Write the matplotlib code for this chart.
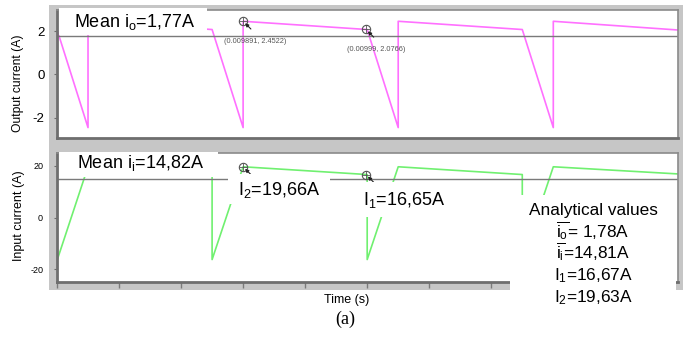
import numpy as np
import matplotlib
matplotlib.use("Agg")
import matplotlib.pyplot as plt
from matplotlib.patches import Rectangle

plt.rcParams['font.family'] = ['Liberation Sans', 'DejaVu Sans']
plt.rcParams['mathtext.fontset'] = 'custom'
plt.rcParams['mathtext.rm'] = 'Liberation Sans'
plt.rcParams['mathtext.it'] = 'Liberation Sans'

# time base (s) and breakpoints in microseconds from t0
t0 = 0.009741
t_span_us = 500.5

t_out_us = [0, 25, 25, 125, 150, 150, 250, 275, 275, 375, 400, 400, 500]
i_out = [2.07, -2.45, 2.45, 2.07, -2.45, 2.45, 2.07, -2.45, 2.45, 2.07, -2.45, 2.45, 2.05]

t_in_us = [0, 0, 25, 125, 125, 150, 250, 250, 275, 375, 375, 400, 500]
i_in = [15.3, -16.7, 19.66, 16.65, -16.3, 19.66, 16.65, -16.3, 19.66, 16.65, -16.3, 19.66, 16.9]

mean_out = 1.77
mean_in = 14.82

# cursor readouts
cur_t = [0.009891, 0.00999]
cur_out = [2.4522, 2.0766]
cur_out_txt = ["(0.009891, 2.4522)", "(0.00999, 2.0766)"]
cur_in = [19.66, 16.65]

out_ticks = [-2, 0, 2]
in_ticks = [-20, 0, 20]
x_tick_us = [0, 50, 100, 150, 200, 250, 300, 350, 400, 450]

analytical = ["Analytical values",
              r"$\overline{\mathrm{i_o}}$= 1,78A",
              r"$\overline{\mathrm{i_i}}$=14,81A",
              r"I$_1$=16,67A",
              r"I$_2$=19,63A"]

W, H = 686, 343
fig = plt.figure(figsize=(W / 100, H / 100), dpi=100)


def fx(px):
    return px / W


def fy(py):
    return 1 - py / H


def box(x0, y0, x1, y1, color='white', z=3):
    fig.patches.append(Rectangle((fx(x0), fy(y1)), fx(x1) - fx(x0), fy(y0) - fy(y1),
                                 transform=fig.transFigure, facecolor=color,
                                 edgecolor='none', zorder=z))


# gray frame behind the two plots
box(49, 5, 683, 290, color='#c6c6c6', z=-1)

ax1 = fig.add_axes([fx(57), fy(138), fx(678) - fx(57), fy(10) - fy(138)])
ax2 = fig.add_axes([fx(57), fy(282), fx(678) - fx(57), fy(153) - fy(282)])

t_out = t0 + np.array(t_out_us) * 1e-6
t_in = t0 + np.array(t_in_us) * 1e-6

ax1.plot(t_out, i_out, color='#ff70ff', lw=1.2)
ax1.axhline(mean_out, color='#7a7a7a', lw=1)
ax1.set_ylim(-2.93, 2.97)

ax2.plot(t_in, i_in, color='#70f070', lw=1.2)
ax2.axhline(mean_in, color='#7a7a7a', lw=1)
ax2.set_ylim(-25, 25)

for ax in (ax1, ax2):
    ax.set_xlim(t0, t0 + t_span_us * 1e-6)
    ax.set_facecolor('white')
    for s in ax.spines.values():
        s.set_color('#8a8a8a')
        s.set_linewidth(1.2)
    ax.spines['left'].set_color('#6e6e6e')
    ax.spines['left'].set_linewidth(2)
    ax.spines['bottom'].set_color('#6e6e6e')
    ax.spines['bottom'].set_linewidth(2)

ax1.set_xticks([])
ax1.set_yticks(out_ticks)
ax1.set_yticklabels([str(v) for v in out_ticks])
ax1.tick_params(axis='y', length=2, pad=7, labelsize=9.5, color='#6e6e6e')

ax2.set_xticks([t0 + v * 1e-6 for v in x_tick_us])
ax2.set_xticklabels([])
ax2.tick_params(axis='x', direction='out', length=4, color='#7a7a7a', width=1)
ax2.set_yticks(in_ticks)
ax2.set_yticklabels([str(v) for v in in_ticks])
ax2.tick_params(axis='y', length=2, pad=8, labelsize=6.5, color='#6e6e6e')

# cursor markers
for ax, vals in ((ax1, cur_out), (ax2, cur_in)):
    for t, v in zip(cur_t, vals):
        ax.plot(t, v, marker='o', ms=6, mfc='none', mec='#555555', mew=0.8, zorder=5)
        ax.plot(t, v, marker='+', ms=6, color='#555555', mew=0.6, zorder=5)
        ax.annotate('', xy=(t, v), xytext=(7, -7), textcoords='offset points',
                    arrowprops=dict(arrowstyle='-|>', color='#222222', lw=0.8,
                                    mutation_scale=5), zorder=6)
for t, v, s in zip(cur_t, cur_out, cur_out_txt):
    ax1.annotate(s, xy=(t, v), xytext=(-14, -12), textcoords='offset points',
                 fontsize=5.3, color='#555555', va='top')

# label boxes
box(58.5, 8, 207, 34.5)
box(58.5, 152, 218, 177)
box(228, 174, 330, 204)
box(360, 182, 450, 217)
box(510, 195, 676, 343)

fig.text(fx(74), fy(27), r"Mean i$_\mathrm{o}$=1,77A", fontsize=13, zorder=10)
fig.text(fx(77), fy(168), r"Mean i$_\mathrm{i}$=14,82A", fontsize=13, zorder=10)
fig.text(fx(238), fy(195), r"I$_2$=19,66A", fontsize=13, zorder=10)
fig.text(fx(363), fy(205), r"I$_1$=16,65A", fontsize=13, zorder=10)

base = [215, 237, 258.5, 280, 302]
for s, b in zip(analytical, base):
    fig.text(fx(593), fy(b), s, fontsize=12.4, ha='center', va='baseline', zorder=10)

fig.text(fx(18), fy(83), "Output current (A)", rotation=90, fontsize=8.7,
         ha='center', va='center')
fig.text(fx(19), fy(216), "Input current (A)", rotation=90, fontsize=9,
         ha='center', va='center')
fig.text(fx(347), fy(300), "Time (s)", fontsize=9, ha='center', va='center')
fig.text(fx(345), fy(319), "(a)", fontsize=13, ha='center', va='center',
         family='Liberation Serif')

fig.savefig("out.png", dpi=100)
